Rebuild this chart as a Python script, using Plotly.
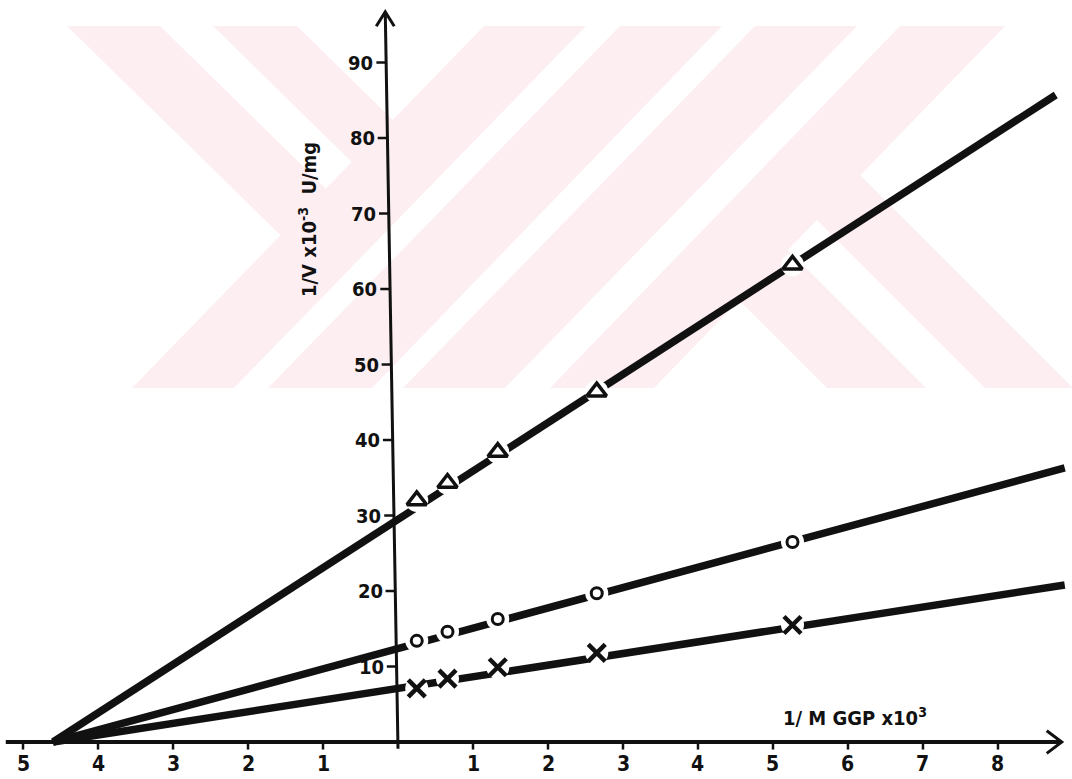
import plotly.graph_objects as go

# Lineweaver-Burk plot: 1/[GGP] (x10^3 1/M) against 1/v (x10^-3 U/mg)
inv_s = [0.25, 0.66, 1.33, 2.65, 5.26]
inv_v_triangle = [32.0, 34.3, 38.4, 46.4, 63.2]
inv_v_circle = [13.4, 14.6, 16.3, 19.7, 26.5]
inv_v_cross = [7.1, 8.4, 9.9, 11.8, 15.5]

# hand-fitted lines: common start on the x axis, individual right-hand ends
fit_x_start = -4.6
fit_y_start = 0.0
fit_x_end = [8.77, 8.89, 8.89]
fit_y_end = [85.7, 36.3, 20.8]

x_ticks = [-5, -4, -3, -2, -1, 1, 2, 3, 4, 5, 6, 7, 8]
x_tick_labels = ["5", "4", "3", "2", "1", "1", "2", "3", "4", "5", "6", "7", "8"]
y_ticks = [10, 20, 30, 40, 50, 60, 70, 80, 90]
y_tick_labels = ["10", "20", "30", "40", "50", "60", "70", "80", "90"]

W, H = 1072, 779
X_MIN, X_MAX = -5.307, 8.987
Y_MIN, Y_MAX = -4.90, 98.28

INK = "#111111"
FONT = "DejaVu Sans Condensed, Liberation Sans Narrow, DejaVu Sans, sans-serif"
PINK = "#fdeef1"

fig = go.Figure()

series = [
    (inv_v_triangle, dict(symbol="triangle-up-open", size=17, line=dict(width=3.5, color=INK))),
    (inv_v_circle, dict(symbol="circle-open", size=11, line=dict(width=3, color=INK))),
    (inv_v_cross, dict(symbol="x-thin-open", size=17, line=dict(width=4.5, color=INK))),
]

for i, (vals, mk) in enumerate(series):
    fig.add_trace(go.Scatter(
        x=[fit_x_start, fit_x_end[i]], y=[fit_y_start, fit_y_end[i]],
        mode="lines", line=dict(color=INK, width=7.5),
        hoverinfo="skip", showlegend=False))
    # white halo breaks the drawn line around each point
    fig.add_trace(go.Scatter(
        x=inv_s, y=vals, mode="markers",
        marker=dict(symbol="circle", size=23, color="white", line=dict(width=0)),
        hoverinfo="skip", showlegend=False))
    fig.add_trace(go.Scatter(
        x=inv_s, y=vals, mode="markers", marker=dict(color=INK, **mk),
        showlegend=False))

shapes = []


def paper(px, py):
    return px / W, 1 - py / H


def poly(points):
    pts = [paper(x, y) for x, y in points]
    d = "M " + " L ".join(f"{x:.5f},{y:.5f}" for x, y in pts) + " Z"
    return dict(type="path", xref="paper", yref="paper", path=d,
                fillcolor=PINK, line=dict(width=0), layer="below")


# background stripe pattern
stripes = [
    [(484, 26), (586, 26), (234, 388), (132, 388)],
    [(620, 26), (722, 26), (372, 388), (268, 388)],
    [(755, 26), (857, 26), (505, 388), (403, 388)],
    [(900, 26), (1005, 26), (654, 388), (550, 388)],
    [(67, 26), (160, 26), (338.5, 201), (286.3, 241)],
    [(213, 26), (297, 26), (399, 126), (361, 171)],
    [(850, 165), (1073, 388), (985, 388), (807, 210)],
    [(778, 240), (926, 388), (827, 388), (729, 290)],
]
for s in stripes:
    shapes.append(poly(s))

# y axis (slightly leaning, as drawn) with ticks
y_axis_bottom, y_axis_top = -0.9, 96.7
y_axis_lean = -0.17


def yaxis_x(y):
    return y_axis_lean * (y - y_axis_bottom) / (y_axis_top - y_axis_bottom)


shapes.append(dict(type="line", xref="x", yref="y", x0=0, y0=y_axis_bottom,
                   x1=y_axis_lean, y1=y_axis_top, line=dict(color=INK, width=3)))
tx, ty = y_axis_lean, y_axis_top
shapes.append(dict(type="path", xref="x", yref="y",
                   path=f"M {tx-0.12},{ty-1.9} L {tx},{ty} L {tx+0.12},{ty-1.9}",
                   line=dict(color=INK, width=3)))
for t in y_ticks:
    xa = yaxis_x(t)
    shapes.append(dict(type="line", xref="x", yref="y", x0=xa - 0.13, y0=t,
                       x1=xa, y1=t, line=dict(color=INK, width=2.5)))

# x axis with ticks and arrow
x_axis_left, x_axis_right = -5.23, 8.85
shapes.append(dict(type="line", xref="x", yref="y", x0=x_axis_left, y0=0,
                   x1=x_axis_right, y1=0, line=dict(color=INK, width=4)))
shapes.append(dict(type="path", xref="x", yref="y",
                   path=f"M {x_axis_right-0.2},1.5 L {x_axis_right},0 L {x_axis_right-0.2},-1.5",
                   line=dict(color=INK, width=3)))
for t in x_ticks:
    shapes.append(dict(type="line", xref="x", yref="y", x0=t, y0=0,
                       x1=t, y1=-1.0, line=dict(color=INK, width=2.5)))

annotations = []
for t, lab in zip(x_ticks, x_tick_labels):
    annotations.append(dict(x=t, y=0, xref="x", yref="y", text=lab,
                            showarrow=False, yanchor="top", yshift=-8,
                            font=dict(family=FONT, size=21, color=INK, weight="bold")))
for t, lab in zip(y_ticks, y_tick_labels):
    annotations.append(dict(x=yaxis_x(t) - 0.13, y=t, xref="x", yref="y", text=lab,
                            showarrow=False, xanchor="right", xshift=-1,
                            font=dict(family=FONT, size=20, color=INK, weight="bold")))

xt, yt = paper(781, 717)
annotations.append(dict(x=xt, y=yt, xref="paper", yref="paper",
                        text="1/ M GGP x10<sup>3</sup>", showarrow=False,
                        xanchor="left", yanchor="middle",
                        font=dict(family=FONT, size=20, color=INK, weight="bold")))
xt, yt = paper(308, 220)
annotations.append(dict(x=xt, y=yt, xref="paper", yref="paper",
                        text="1/V x10<sup>-3</sup>  U/mg", showarrow=False,
                        textangle=-90, xanchor="center", yanchor="middle",
                        font=dict(family=FONT, size=20, color=INK, weight="bold")))

fig.update_layout(
    width=W, height=H, autosize=False,
    margin=dict(l=0, r=0, t=0, b=0),
    paper_bgcolor="white", plot_bgcolor="white",
    xaxis=dict(range=[X_MIN, X_MAX], visible=False, fixedrange=True),
    yaxis=dict(range=[Y_MIN, Y_MAX], visible=False, fixedrange=True),
    shapes=shapes, annotations=annotations,
)

fig.write_html("out.html")
